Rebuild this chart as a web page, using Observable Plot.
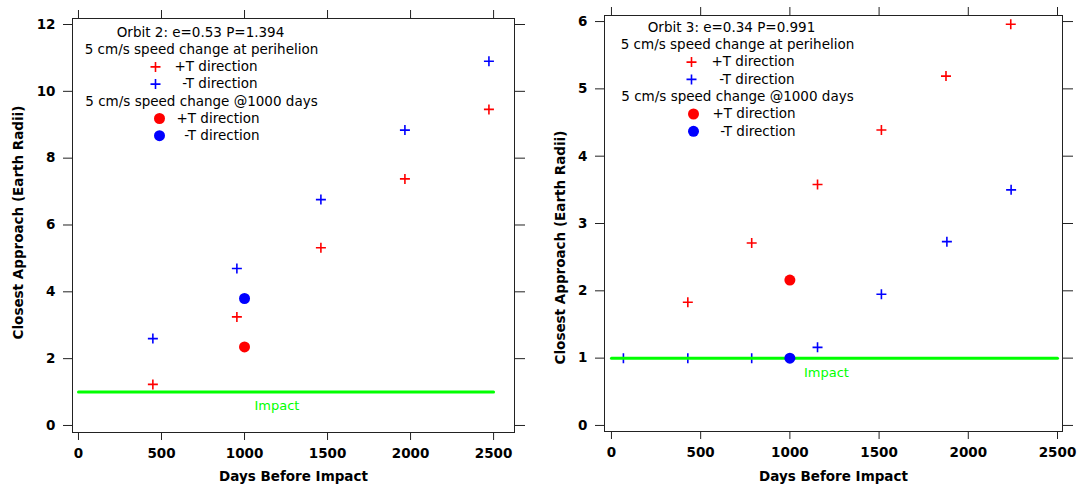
<!DOCTYPE html>
<html><head><meta charset="utf-8">
<script src="https://cdn.jsdelivr.net/npm/d3@7"></script>
<script src="https://cdn.jsdelivr.net/npm/@observablehq/plot@0.6"></script>
<style>
body{margin:0;background:#fff}
#charts{display:flex;width:1081px;height:486px;overflow:hidden}
</style>
</head><body><div id="charts"></div>
<script>
// ---------- Data: Orbit 2 (left) ----------
const o2PlusTDays = [448, 954, 1460, 1966, 2472];
const o2PlusTApproach = [1.23, 3.25, 5.32, 7.38, 9.46];
const o2MinusTDays = [448, 954, 1460, 1966, 2472];
const o2MinusTApproach = [2.60, 4.70, 6.76, 8.84, 10.90];
const o2DotDays = [1000, 1000];
const o2DotApproach = [2.35, 3.80];
const o2Title = "Orbit 2: e=0.53 P=1.394";

// ---------- Data: Orbit 3 (right) ----------
const o3PlusTDays = [428, 786, 1155, 1513, 1875, 2238];
const o3PlusTApproach = [1.83, 2.71, 3.58, 4.39, 5.19, 5.96];
const o3MinusTDays = [67, 428, 786, 1155, 1513, 1880, 2240];
const o3MinusTApproach = [1.00, 1.00, 1.00, 1.16, 1.95, 2.73, 3.50];
const o3DotDays = [1000, 1000];
const o3DotApproach = [2.16, 1.00];
const o3Title = "Orbit 3: e=0.34 P=0.991";

// ---------- Shared ----------
const dotSeries = ["+T", "-T"];
const impactDays = [0, 2500];
const impactLevel = 1;
const xTicks = [0, 500, 1000, 1500, 2000, 2500];
const yTicksLeft = [0, 2, 4, 6, 8, 10, 12];
const yTicksRight = [0, 1, 2, 3, 4, 5, 6];
const legendLines = [
  "5 cm/s speed change at perihelion",
  "5 cm/s speed change @1000 days"
];
const legendItems = ["+T direction", "-T direction"];
const xTitle = "Days Before Impact";
const yTitle = "Closest Approach (Earth Radii)";

const RED = "#ff0000", BLUE = "#0000ff", GREEN = "#00ff00", INK = "#222";
const FONT = "DejaVu Sans";
const fmt = d3.format("d");

const crossSymbol = {
  draw(ctx, size) {
    const r = Math.sqrt(size / Math.PI);
    ctx.moveTo(-r, 0); ctx.lineTo(r, 0);
    ctx.moveTo(0, -r); ctx.lineTo(0, r);
  }
};

function rows(xs, ys) { return xs.map((x, i) => ({x, y: ys[i]})); }

function panel(cfg) {
  const plus = rows(cfg.plusDays, cfg.plusY);
  const minus = rows(cfg.minusDays, cfg.minusY);
  const dots = cfg.dotDays.map((x, i) => ({x, y: cfg.dotY[i], s: dotSeries[i]}));
  const impact = impactDays.map(x => ({x, y: impactLevel}));
  const L = cfg.legend;
  const legendText = [
    {t: cfg.title, dx: L.cx, dy: L.y0, anchor: "middle"},
    {t: legendLines[0], dx: L.cx2, dy: L.y0 + L.step, anchor: "middle"},
    {t: legendItems[0], dx: L.endPlus, dy: L.y0 + 2 * L.step, anchor: "end"},
    {t: legendItems[1], dx: L.endPlus, dy: L.y0 + 3 * L.step, anchor: "end"},
    {t: legendLines[1], dx: L.cx2, dy: L.y0 + 4 * L.step, anchor: "middle"},
    {t: legendItems[0], dx: L.endDot, dy: L.y0 + 5 * L.step, anchor: "end"},
    {t: legendItems[1], dx: L.endDot, dy: L.y0 + 6 * L.step, anchor: "end"}
  ];
  const marks = [
    Plot.frame({stroke: INK}),
    Plot.axisX({anchor: "bottom", ticks: xTicks, tickFormat: fmt, tickSize: 8, tickPadding: 8, label: null,
      fontWeight: "bold", fontSize: 13.5, fontFamily: FONT, stroke: INK, color: "#000"}),
    Plot.axisX({anchor: "top", ticks: xTicks, tickSize: 9, tickFormat: () => "", label: null, stroke: INK}),
    Plot.axisY({anchor: "left", ticks: cfg.yTicks, tickFormat: fmt, tickSize: 9, tickPadding: 8, label: null,
      fontWeight: "bold", fontSize: 13.5, fontFamily: FONT, stroke: INK}),
    Plot.axisY({anchor: "right", ticks: cfg.yTicks, tickSize: 10, tickFormat: () => "", label: null, stroke: INK}),
    Plot.dot(plus, {x: "x", y: "y", symbol: crossSymbol, r: 5, stroke: RED, strokeWidth: 1.6}),
    Plot.dot(minus, {x: "x", y: "y", symbol: crossSymbol, r: 5, stroke: BLUE, strokeWidth: 1.6}),
    Plot.line(impact, {x: "x", y: "y", stroke: GREEN, strokeWidth: 3}),
    Plot.dot(dots, {x: "x", y: "y", r: 5.5, fill: d => d.s === "+T" ? RED : BLUE, stroke: "none"}),
    Plot.text(["Impact"], {x: cfg.impactLabelX, y: cfg.impactLabelY, fill: GREEN, fontSize: 13, fontFamily: FONT}),
    Plot.text([xTitle], {frameAnchor: "bottom", dy: cfg.xTitleDy, lineAnchor: "middle", textAnchor: "middle",
      fontWeight: "bold", fontSize: 13.5, fontFamily: FONT, fill: "#000"}),
    Plot.text([yTitle], {frameAnchor: "left", rotate: -90, dx: cfg.yTitleDx, dy: cfg.yTitleDy,
      textAnchor: "middle", lineAnchor: "middle",
      fontWeight: "bold", fontSize: 13.5, fontFamily: FONT, fill: "#000"}),
    ...legendText.map(d => Plot.text([d.t], {frameAnchor: "top-left", dx: d.dx, dy: d.dy, textAnchor: d.anchor,
      lineAnchor: "middle", fontSize: 13.5, fontFamily: FONT, fill: "#000"})),
    Plot.dot([0], {frameAnchor: "top-left", dx: L.plusX, dy: L.y0 + 2 * L.step, symbol: crossSymbol, r: 5, stroke: RED, strokeWidth: 1.6}),
    Plot.dot([0], {frameAnchor: "top-left", dx: L.plusX, dy: L.y0 + 3 * L.step, symbol: crossSymbol, r: 5, stroke: BLUE, strokeWidth: 1.6}),
    Plot.dot([0], {frameAnchor: "top-left", dx: L.dotX, dy: L.y0 + 5 * L.step, r: 5.5, fill: RED}),
    Plot.dot([0], {frameAnchor: "top-left", dx: L.dotX, dy: L.y0 + 6 * L.step, r: 5.5, fill: BLUE})
  ];
  return Plot.plot({
    width: cfg.width, height: 486,
    marginLeft: cfg.ml, marginRight: cfg.mr, marginTop: cfg.mt, marginBottom: cfg.mb,
    style: {fontFamily: FONT, fontSize: "13.5px", background: "#fff", color: "#000", overflow: "visible"},
    x: {domain: cfg.xDomain},
    y: {domain: cfg.yDomain},
    marks
  });
}

const left = panel({
  width: 540, ml: 72, mr: 26, mt: 18, mb: 54,
  xDomain: [-36, 2626], yDomain: [-0.21, 12.18], yTicks: yTicksLeft,
  plusDays: o2PlusTDays, plusY: o2PlusTApproach,
  minusDays: o2MinusTDays, minusY: o2MinusTApproach,
  dotDays: o2DotDays, dotY: o2DotApproach, title: o2Title,
  impactLabelX: 1195, impactLabelY: 0.6,
  xTitleDy: 44, yTitleDx: -54, yTitleDy: -3,
  legend: {cx: 128, cx2: 129, y0: 14, step: 17.2, endPlus: 185, endDot: 187, plusX: 83, dotX: 87}
});
const right = panel({
  width: 541, ml: 64, mr: 19, mt: 15, mb: 55,
  xDomain: [-39, 2528], yDomain: [-0.09, 6.09], yTicks: yTicksRight,
  plusDays: o3PlusTDays, plusY: o3PlusTApproach,
  minusDays: o3MinusTDays, minusY: o3MinusTApproach,
  dotDays: o3DotDays, dotY: o3DotApproach, title: o3Title,
  impactLabelX: 1205, impactLabelY: 0.78,
  xTitleDy: 45, yTitleDx: -44, yTitleDy: 24,
  legend: {cx: 127, cx2: 133, y0: 12, step: 17.3, endPlus: 190, endDot: 191, plusX: 87, dotX: 89}
});
document.getElementById("charts").append(left, right);
</script>
</body></html>
